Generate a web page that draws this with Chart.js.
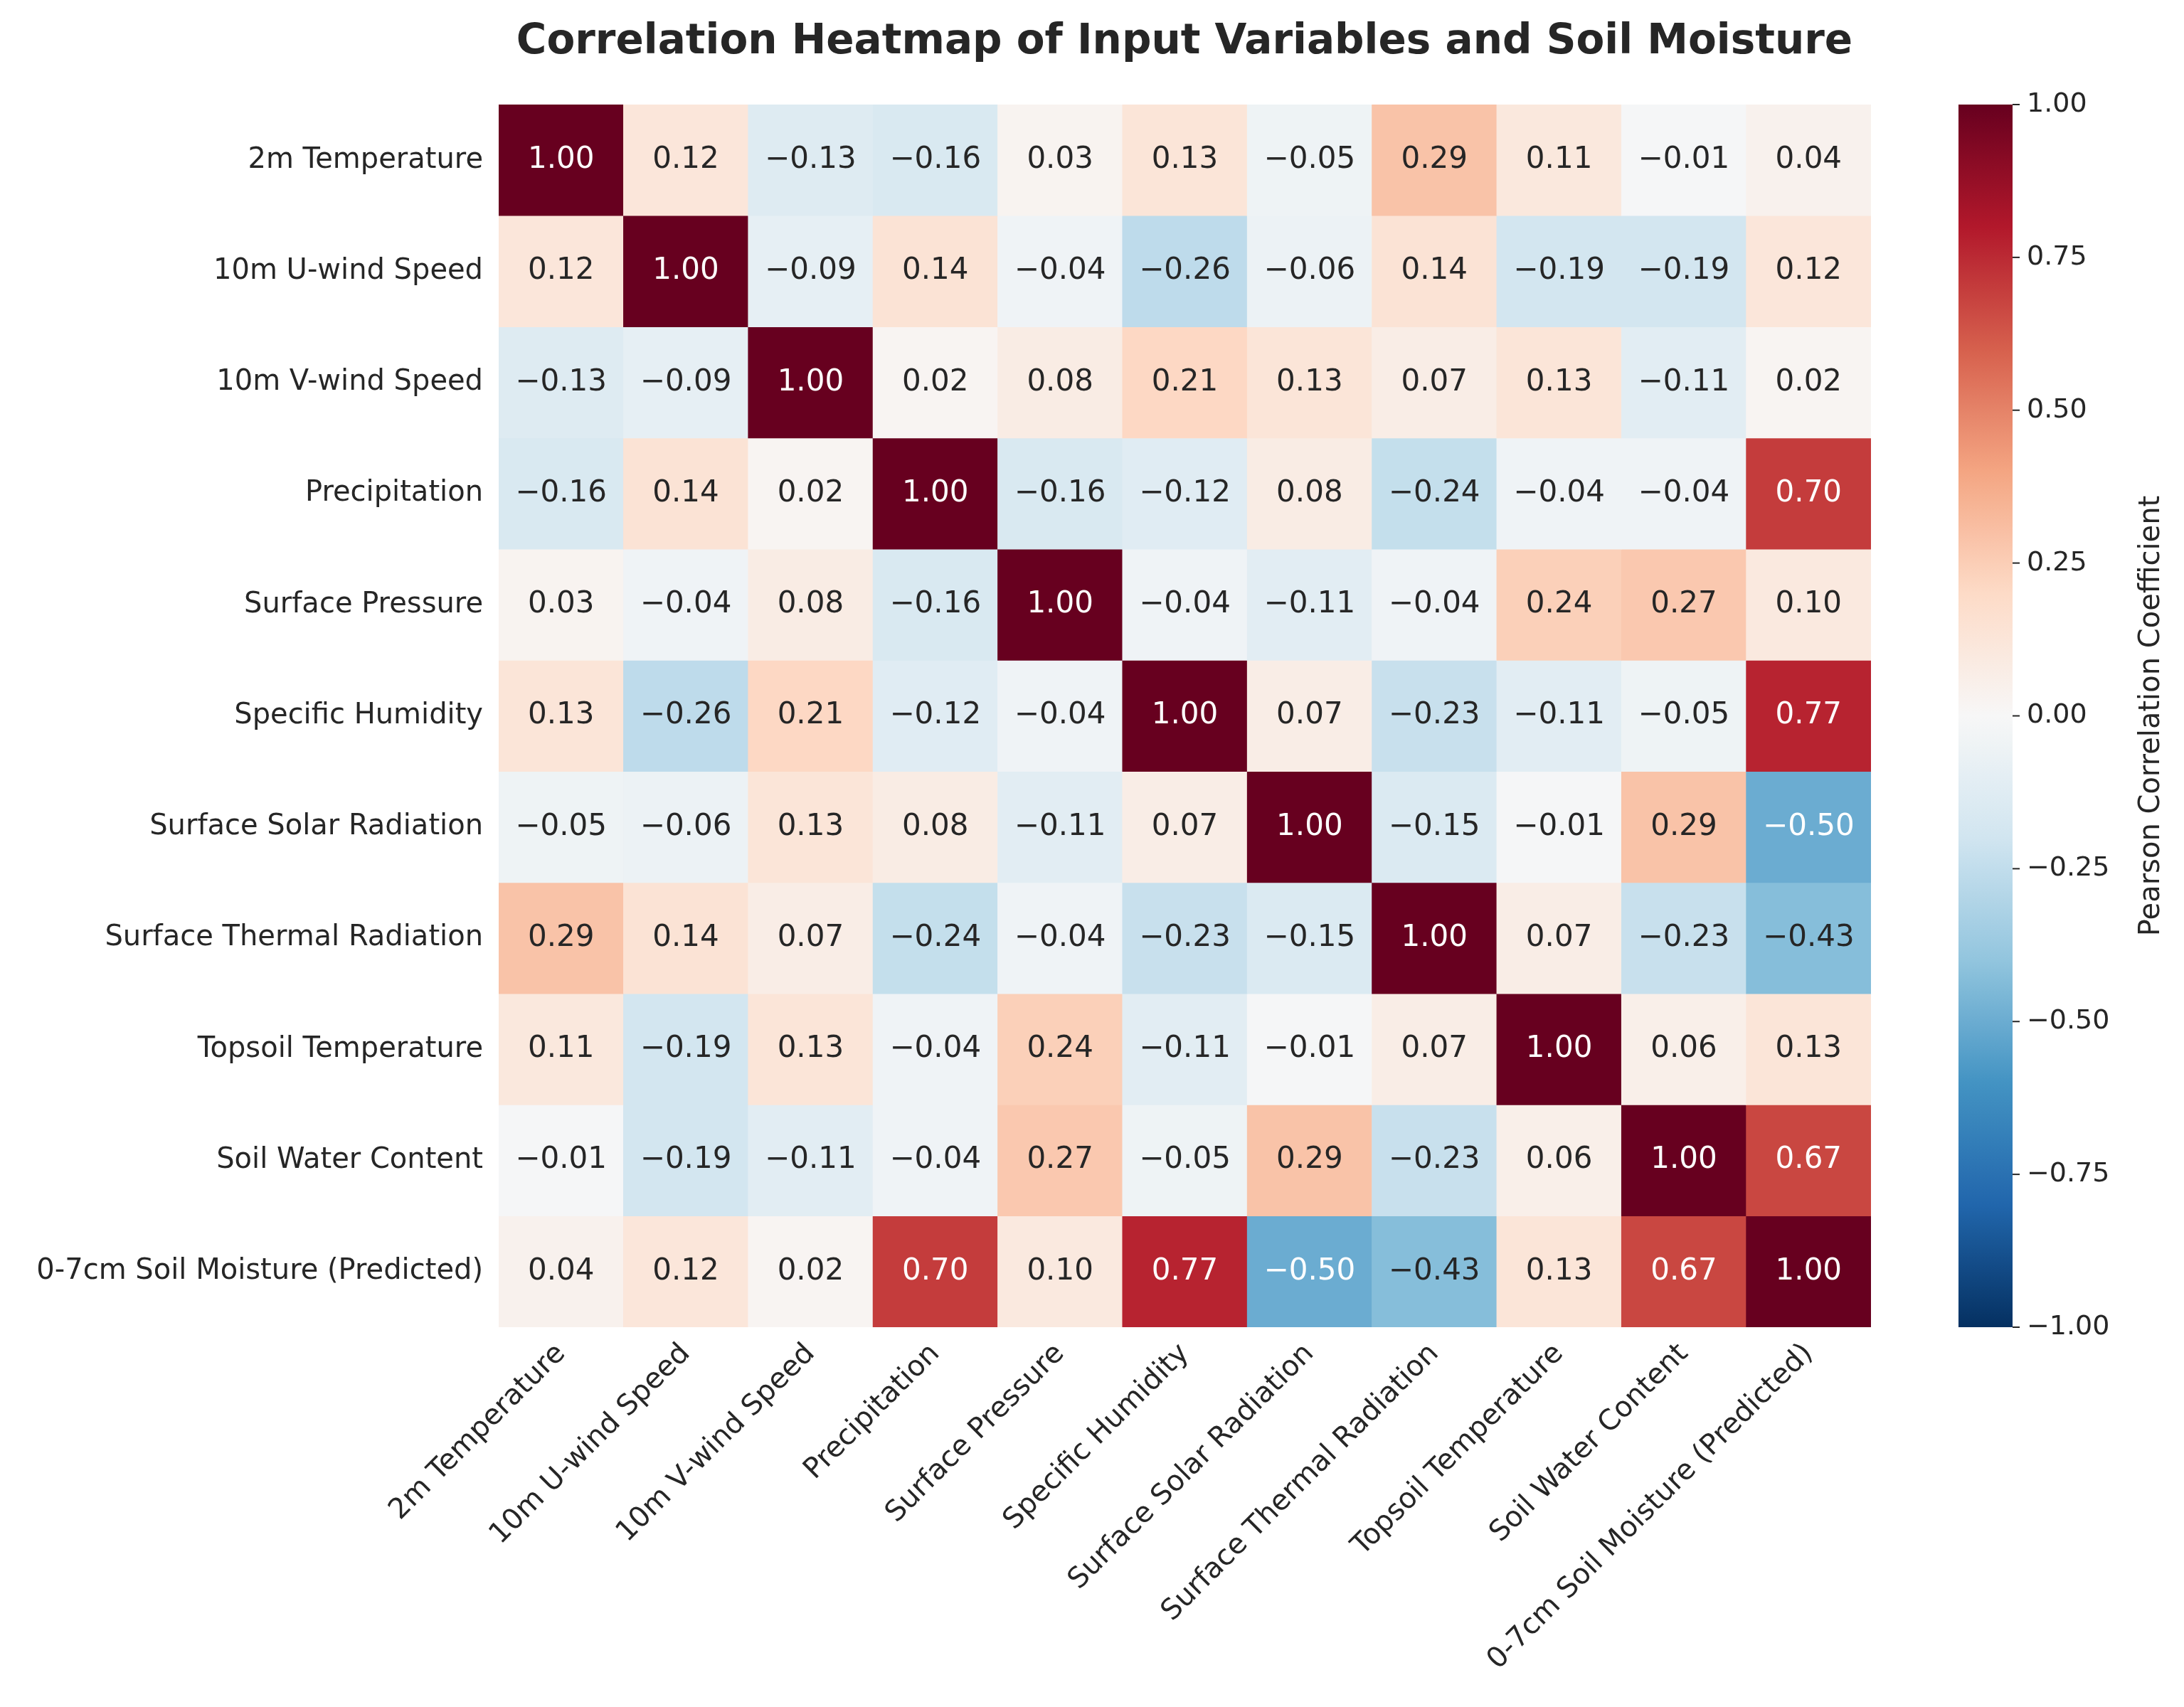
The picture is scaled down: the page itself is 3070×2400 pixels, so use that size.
<!DOCTYPE html>
<html>
<head>
<meta charset="utf-8">
<script src="https://cdn.jsdelivr.net/npm/chart.js@4/dist/chart.umd.min.js"></script>
<style>
  html, body { margin: 0; padding: 0; background: #fff; }
  #wrap { width: 3070px; height: 2400px; }
</style>
</head>
<body>
<div id="wrap"><canvas id="heat" width="3070" height="2400"></canvas></div>
<script>
const variables = ["2m Temperature", "10m U-wind Speed", "10m V-wind Speed", "Precipitation",
    "Surface Pressure", "Specific Humidity", "Surface Solar Radiation", "Surface Thermal Radiation",
    "Topsoil Temperature", "Soil Water Content", "0-7cm Soil Moisture (Predicted)"];

const row_temp2m   = [1.00, 0.12, -0.13, -0.16, 0.03, 0.13, -0.05, 0.29, 0.11, -0.01, 0.04];
const row_uwind    = [0.12, 1.00, -0.09, 0.14, -0.04, -0.26, -0.06, 0.14, -0.19, -0.19, 0.12];
const row_vwind    = [-0.13, -0.09, 1.00, 0.02, 0.08, 0.21, 0.13, 0.07, 0.13, -0.11, 0.02];
const row_precip   = [-0.16, 0.14, 0.02, 1.00, -0.16, -0.12, 0.08, -0.24, -0.04, -0.04, 0.70];
const row_pressure = [0.03, -0.04, 0.08, -0.16, 1.00, -0.04, -0.11, -0.04, 0.24, 0.27, 0.10];
const row_humidity = [0.13, -0.26, 0.21, -0.12, -0.04, 1.00, 0.07, -0.23, -0.11, -0.05, 0.77];
const row_solar    = [-0.05, -0.06, 0.13, 0.08, -0.11, 0.07, 1.00, -0.15, -0.01, 0.29, -0.50];
const row_thermal  = [0.29, 0.14, 0.07, -0.24, -0.04, -0.23, -0.15, 1.00, 0.07, -0.23, -0.43];
const row_topsoil  = [0.11, -0.19, 0.13, -0.04, 0.24, -0.11, -0.01, 0.07, 1.00, 0.06, 0.13];
const row_swc      = [-0.01, -0.19, -0.11, -0.04, 0.27, -0.05, 0.29, -0.23, 0.06, 1.00, 0.67];
const row_moisture = [0.04, 0.12, 0.02, 0.70, 0.10, 0.77, -0.50, -0.43, 0.13, 0.67, 1.00];

const rows = [row_temp2m, row_uwind, row_vwind, row_precip, row_pressure, row_humidity,
    row_solar, row_thermal, row_topsoil, row_swc, row_moisture];

const cbTicks = [-1, -0.75, -0.5, -0.25, 0, 0.25, 0.5, 0.75, 1];

// RdBu_r
const stops = ["#053061", "#2166ac", "#4393c3", "#92c5de", "#d1e5f0", "#f7f7f7",
    "#fddbc7", "#f4a582", "#d6604d", "#b2182b", "#67001f"];

function hex(c) { return [1, 3, 5].map(i => parseInt(c.substr(i, 2), 16)); }

function cmap(v) {
    let t = (v + 1) / 2 * (stops.length - 1);
    let i = Math.min(Math.floor(t), stops.length - 2);
    let f = t - i;
    let a = hex(stops[i]), b = hex(stops[i + 1]);
    let c = a.map((x, k) => Math.round(x + (b[k] - x) * f));
    return "rgb(" + c.join(",") + ")";
}

function fmt(v) {
    let s = Math.abs(v).toFixed(2);
    return (v < 0 ? "\u2212" : "") + s;
}

const FONT = "'DejaVu Sans', sans-serif";

let datasets = rows.map(function (r, i) {
    return {
        data: r.map(() => [i - 0.5, i + 0.5]),
        values: r,
        backgroundColor: r.map(cmap),
        borderWidth: 0,
        grouped: false,
        barPercentage: 1,
        categoryPercentage: 1
    };
});

// cell labels, title and colorbar
const extras = {
    id: "extras",
    afterDatasetsDraw(chart) {
        let ctx = chart.ctx;
        ctx.save();
        ctx.font = "42px " + FONT;
        ctx.textAlign = "center";
        ctx.textBaseline = "middle";
        chart.data.datasets.forEach(function (ds, i) {
            chart.getDatasetMeta(i).data.forEach(function (bar, j) {
                let v = ds.values[j];
                ctx.fillStyle = (v > 0.6 || v < -0.45) ? "#ffffff" : "#262626";
                ctx.fillText(fmt(v), bar.x, (bar.y + bar.base) / 2);
            });
        });

        ctx.font = "bold 58px " + FONT;
        ctx.fillStyle = "#262626";
        ctx.fillText("Correlation Heatmap of Input Variables and Soil Moisture", 1665, 60);

        // colorbar
        let ca = chart.chartArea;
        let x0 = 2753, w = 76, top = ca.top, bot = ca.bottom;
        let g = ctx.createLinearGradient(0, bot, 0, top);
        for (let k = 0; k <= 40; k++) g.addColorStop(k / 40, cmap(-1 + k / 20));
        ctx.fillStyle = g;
        ctx.fillRect(x0, top, w, bot - top);
        ctx.font = "38px " + FONT;
        ctx.textAlign = "left";
        ctx.strokeStyle = "#262626";
        ctx.lineWidth = 2;
        cbTicks.forEach(function (t) {
            let y = bot - (t + 1) / 2 * (bot - top);
            ctx.beginPath();
            ctx.moveTo(x0 + w, y);
            ctx.lineTo(x0 + w + 10, y);
            ctx.stroke();
            ctx.fillStyle = "#262626";
            ctx.fillText(fmt(t), x0 + w + 20, y);
        });
        ctx.translate(3025, (top + bot) / 2);
        ctx.rotate(-Math.PI / 2);
        ctx.textAlign = "center";
        ctx.font = "40px " + FONT;
        ctx.fillText("Pearson Correlation Coefficient", 0, 0);
        ctx.restore();
    }
};

new Chart(document.getElementById("heat").getContext("2d"), {
    type: "bar",
    data: { labels: variables, datasets: datasets },
    plugins: [extras],
    options: {
        responsive: false,
        animation: false,
        layout: { padding: { top: 147, right: 440, left: 0, bottom: 0 } },
        plugins: { legend: { display: false }, tooltip: { enabled: false } },
        scales: {
            x: {
                grid: { display: false },
                border: { display: false },
                ticks: {
                    color: "#262626", font: { size: 40, family: FONT },
                    minRotation: 45, maxRotation: 45, padding: 6
                },
                afterFit(s) { s.height = 534; }
            },
            y: {
                type: "linear", reverse: true, min: -0.5, max: 10.5,
                grid: { display: false },
                border: { display: false },
                afterBuildTicks(s) { s.ticks = variables.map((_, i) => ({ value: i })); },
                ticks: {
                    color: "#262626", font: { size: 40, family: FONT }, padding: 14,
                    callback: v => variables[v]
                },
                afterFit(s) { s.width = 701; }
            }
        }
    }
});
</script>
</body>
</html>
